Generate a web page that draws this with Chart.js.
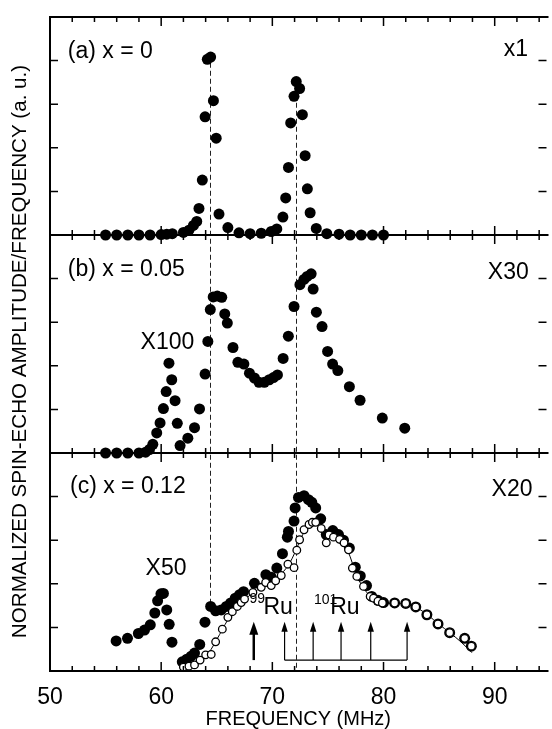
<!DOCTYPE html>
<html><head><meta charset="utf-8">
<script src="https://cdn.jsdelivr.net/npm/chart.js@4.4.1/dist/chart.umd.min.js"></script>
<style>html,body{margin:0;padding:0;background:#fff;overflow:hidden}canvas{display:block}</style>
</head><body>
<canvas id="c" width="552" height="729" style="width:552px;height:729px"></canvas>
<script>
// ---------- DATA ----------
const xTicks = [50, 60, 70, 80, 90];

// (a) x = 0
const aFreq = [55,56,57,58,59,60,60.5,61,62,62.5,62.9,63.2,63.4,63.7,63.95,64.15,64.45,64.7,64.95,65.2,66,67,68,69,69.9,70.4,70.95,71.2,71.45,71.65,71.95,72.15,72.45,72.7,72.95,73.15,73.4,73.95,74.9,76,77,78,79,80];
const aVal  = [0,0,0,0,0,0.01,0.02,0.03,0.06,0.11,0.22,0.31,0.61,1.26,2.71,4.03,4.08,3.08,2.22,0.48,0.17,0.05,0.03,0.04,0.08,0.14,0.41,0.85,1.55,2.57,3.18,3.52,3.36,2.76,1.82,1.06,0.51,0.15,0.03,0.02,0,0,0,0];

// (b) x = 0.05  (X100 part and X30 part)
const bLowFreq = [55,56,57,58,58.6,58.95,59.25,59.6,59.9,60.2,60.45,60.7,60.95,61.25,61.45,61.7];
const bLowVal  = [0,0,0,0,0.02,0.08,0.2,0.46,0.69,1.02,1.41,2.06,1.68,1.2,0.68,0.17];
const bHighFreq = [62.4,63.0,63.45,63.95,64.2,64.42,64.68,65.05,65.45,65.72,65.95,66.46,66.9,67.44,67.94,68.39,68.8,69.28,69.72,70.1,70.46,70.97,71.44,71.95,72.48,72.84,73.13,73.49,73.67,73.96,74.47,74.97,75.42,75.89,76.93,77.89,79.89,81.91];
const bHighVal  = [0.34,0.58,1.01,1.81,2.56,3.29,3.58,3.6,3.57,3.19,2.98,2.42,2.08,2.04,1.83,1.72,1.62,1.62,1.68,1.73,1.79,2.17,2.68,3.36,3.86,3.98,4.05,4.11,3.76,3.23,2.9,2.33,2.04,1.89,1.52,1.21,0.8,0.57];

// (c) x = 0.12  (X50 part, X20 filled, open circles, fit line)
const cLowFreq = [55.95,56.97,57.95,58.5,59.02,59.43,59.68,59.98,60.2,60.5,60.72,60.97];
const cLowVal  = [0.69,0.75,0.86,0.94,1.06,1.33,1.61,1.77,1.78,1.4,1.07,0.66];
const cFillFreq = [61.9,62.3,62.7,63.0,63.47,63.94,64.45,64.9,65.4,65.86,66.25,66.66,67.05,67.41,68.39,69.42,69.9,70.4,70.91,71.35,71.45,71.95,72.05,72.35,72.85,73.25,73.55,73.9,74.35,74.85,75.44,75.95,76.4,76.93,77.46,77.91,78.47,78.94,79.5,80.0,81.0,82.0,82.9,83.9,84.9,85.95,87.3,87.9];
const cFillVal  = [0.21,0.27,0.34,0.41,0.61,1.12,1.48,1.38,1.4,1.48,1.56,1.67,1.75,1.82,2.01,2.21,2.15,2.36,2.69,3.07,3.2,3.44,3.74,3.98,4.02,3.93,3.87,3.74,3.49,3.13,3.22,3.13,3.0,2.82,2.38,2.18,1.96,1.71,1.62,1.57,1.56,1.55,1.47,1.29,1.08,0.88,0.75,0.57];
const cOpenFreq = [62.0,62.5,63.0,63.5,64.0,64.5,64.9,65.5,66.0,66.4,66.85,67.2,67.5,68.25,69.0,69.4,69.9,70.3,70.8,71.4,71.95,72.2,72.45,72.85,73.3,73.6,73.9,74.4,74.85,75.1,75.5,76.05,76.45,76.85,77.2,77.6,78.2,78.8,79.1,79.5,79.9,81.0,82.0,82.9,83.9,84.9,85.95,87.3,87.9];
const cOpenVal  = [0.09,0.11,0.14,0.25,0.37,0.38,0.67,0.96,1.23,1.36,1.48,1.57,1.65,1.8,1.92,2.03,1.96,2.07,2.19,2.45,2.37,2.77,3.01,3.24,3.36,3.41,3.41,3.27,2.94,3.12,3.07,3.02,2.94,2.78,2.36,2.17,1.94,1.71,1.67,1.6,1.56,1.56,1.55,1.47,1.29,1.08,0.88,0.75,0.57];
const fitFreq = [61.9,62.5,63,63.5,64,64.5,65,65.5,66,66.5,67,67.5,68,68.5,69,69.5,70,70.5,71,71.5,72,72.5,73,73.5,74,74.5,75,75.5,76,76.5,77,77.5,78,78.5,79,79.5,80,81,82,83,84,85,86,87,87.95];
const fitVal  = [0.0,0.07,0.13,0.22,0.33,0.5,0.72,0.95,1.18,1.37,1.52,1.64,1.74,1.83,1.92,2.0,2.06,2.15,2.28,2.45,2.7,3.0,3.25,3.38,3.38,3.28,3.13,3.06,3.0,2.9,2.62,2.25,1.98,1.8,1.67,1.6,1.56,1.55,1.53,1.45,1.28,1.07,0.87,0.66,0.42];

// Ru line positions (MHz) and reference dashed lines
const ru99Line = [68.33];
const ru101Lines = [71.1, 73.67, 76.18, 78.85, 82.12];
const refFreq = [64.38, 72.17];
const refTopA = [3.95, 3.4];     // start in panel (a)
const refBottomC = [1.5, 0];     // end in panel (c)

// ---------- LAYOUT / STYLE ----------
const PANEL_BASE = {a: 10, b: 5, c: 0};
const FONT = '"Liberation Sans", Arial, Helvetica, sans-serif';
const pts = (xs, ys, p) => xs.map((x, i) => ({x, y: ys[i] + PANEL_BASE[p]}));

const filled = (data) => ({data, showLine:false, pointRadius:5.5, pointHoverRadius:5.5,
  pointBackgroundColor:'#000', pointBorderWidth:0, borderColor:'#000', order:2});

const labels = [
  {t:'(a) x = 0', x:51.6, y:4.05, p:'a', al:'left'},
  {t:'x1', x:93.0, y:4.11, p:'a', al:'right'},
  {t:'(b) x = 0.05', x:51.6, y:4.05, p:'b', al:'left'},
  {t:'X30', x:93.06, y:4.0, p:'b', al:'right'},
  {t:'X100', x:58.15, y:2.39, p:'b', al:'left'},
  {t:'(c) x = 0.12', x:51.8, y:4.09, p:'c', al:'left'},
  {t:'X20', x:93.4, y:4.02, p:'c', al:'right'},
  {t:'X50', x:58.6, y:2.21, p:'c', al:'left'}
];

const deco = {
  id:'deco',
  beforeDatasetsDraw(chart){
    const {ctx} = chart, xs = chart.scales.x, ys = chart.scales.y;
    const X = v => xs.getPixelForValue(v), Y = (v,p) => ys.getPixelForValue(v + PANEL_BASE[p]);
    ctx.save();
    ctx.strokeStyle = '#222'; ctx.lineWidth = 1; ctx.setLineDash([5,3]);
    refFreq.forEach((f,i) => {
      const x = Math.round(X(f)) + 0.5;
      ctx.beginPath(); ctx.moveTo(x, Y(refTopA[i],'a')); ctx.lineTo(x, Y(refBottomC[i],'c')); ctx.stroke();
    });
    ctx.restore();
  },
  afterDatasetsDraw(chart){
    const {ctx, chartArea:ca} = chart, xs = chart.scales.x, ys = chart.scales.y;
    const X = v => xs.getPixelForValue(v), Y = (v,p) => ys.getPixelForValue(v + PANEL_BASE[p]);
    ctx.save();
    ctx.strokeStyle = '#000'; ctx.fillStyle = '#000';
    // frame
    ctx.lineWidth = 2;
    const bounds = [Y(5,'a'), Y(5,'b'), Y(5,'c'), Y(0,'c')];
    ctx.beginPath();
    bounds.forEach(b => { ctx.moveTo(ca.left - 1, b); ctx.lineTo(ca.right + 2, b); });
    ctx.moveTo(ca.left, bounds[0] - 1); ctx.lineTo(ca.left, bounds[3] + 1);
    ctx.stroke();
    // x ticks
    ctx.lineWidth = 1.5;
    ctx.beginPath();
    for (let v = 52; v <= 94; v += 2) {
      const x = X(v), L = (v % 10 === 0) ? 9 : 5;
      ctx.moveTo(x, bounds[0]); ctx.lineTo(x, bounds[0] + L);
      ctx.moveTo(x, bounds[1] - L); ctx.lineTo(x, bounds[1] + L);
      ctx.moveTo(x, bounds[2] - L); ctx.lineTo(x, bounds[2] + L);
      ctx.moveTo(x, bounds[3]); ctx.lineTo(x, bounds[3] - L);
    }
    // y ticks
    ['a','b','c'].forEach(p => {
      for (let v = 1; v <= 4; v++) {
        const y = Y(v,p);
        ctx.moveTo(ca.left, y); ctx.lineTo(ca.left + 8, y);
        ctx.moveTo(ca.right - 8, y); ctx.lineTo(ca.right, y);
      }
    });
    ctx.stroke();
    // arrows
    const base = 0.25, tip = 1.13;
    const arrow = (f, w, hw, hl) => {
      const x = X(f), yb = Y(base,'c'), yt = Y(tip,'c');
      ctx.lineWidth = w; ctx.beginPath(); ctx.moveTo(x, yb); ctx.lineTo(x, yt + hl - 1); ctx.stroke();
      ctx.beginPath(); ctx.moveTo(x, yt); ctx.lineTo(x - hw, yt + hl); ctx.lineTo(x + hw, yt + hl); ctx.closePath(); ctx.fill();
    };
    ru99Line.forEach(f => arrow(f, 2.5, 4.5, 13));
    ru101Lines.forEach(f => arrow(f, 1.2, 3.2, 10));
    ctx.lineWidth = 1.2; ctx.beginPath();
    ctx.moveTo(X(ru101Lines[0]), Y(base,'c')); ctx.lineTo(X(ru101Lines[ru101Lines.length-1]), Y(base,'c'));
    ctx.stroke();
    // text labels
    ctx.textBaseline = 'alphabetic';
    ctx.font = '23px ' + FONT;
    labels.forEach(l => { ctx.textAlign = l.al; ctx.fillText(l.t, X(l.x), Y(l.y, l.p)); });
    // isotope labels
    ctx.textAlign = 'left';
    ctx.font = '14px ' + FONT; ctx.fillText('99', X(67.95), Y(1.56,'c'));
    ctx.font = '23px ' + FONT; ctx.fillText('Ru', X(69.2), Y(1.31,'c'));
    ctx.font = '14px ' + FONT; ctx.fillText('101', X(73.75), Y(1.54,'c'));
    ctx.font = '23px ' + FONT; ctx.fillText('Ru', X(75.2), Y(1.31,'c'));
    // y title
    ctx.translate(20.5, 351.5); ctx.rotate(-Math.PI/2);
    ctx.textAlign = 'center'; ctx.textBaseline = 'middle';
    ctx.font = '20.6px ' + FONT;
    ctx.fillText('NORMALIZED SPIN-ECHO AMPLITUDE/FREQUENCY (a. u.)', 0, 0);
    ctx.restore();
  }
};

new Chart(document.getElementById('c'), {
  type:'scatter',
  data:{ datasets:[
    {data: pts(cOpenFreq, cOpenVal, 'c'), showLine:false, pointRadius:3.8, pointHoverRadius:3.8,
     pointBackgroundColor:'#fff', pointBorderColor:'#000', pointBorderWidth:1.3, order:0},
    {data: pts(fitFreq, fitVal, 'c'), showLine:true, pointRadius:0, borderColor:'#000', borderWidth:1,
     tension:0.35, order:1},
    filled(pts(aFreq, aVal, 'a')),
    filled(pts(bLowFreq, bLowVal, 'b')),
    filled(pts(bHighFreq, bHighVal, 'b')),
    filled(pts(cLowFreq, cLowVal, 'c')),
    filled(pts(cFillFreq, cFillVal, 'c'))
  ]},
  options:{
    responsive:false, animation:false, devicePixelRatio:1,
    layout:{padding:{left:50, top:17, right:0, bottom:0}},
    plugins:{legend:{display:false}, tooltip:{enabled:false}},
    scales:{
      x:{type:'linear', min:50, max:94.66,
         grid:{display:false}, border:{display:false},
         afterBuildTicks: s => { s.ticks = xTicks.map(v => ({value:v})); },
         ticks:{font:{family:FONT, size:23}, color:'#000', padding:5, maxRotation:0, autoSkip:false},
         title:{display:true, text:'FREQUENCY (MHz)', color:'#000', font:{family:FONT, size:20}, padding:{top:0, bottom:-2}},
         afterFit: s => { s.height = 58; }},
      y:{type:'linear', min:0, max:15, display:false}
    }
  },
  plugins:[deco]
});
</script>
</body></html>
